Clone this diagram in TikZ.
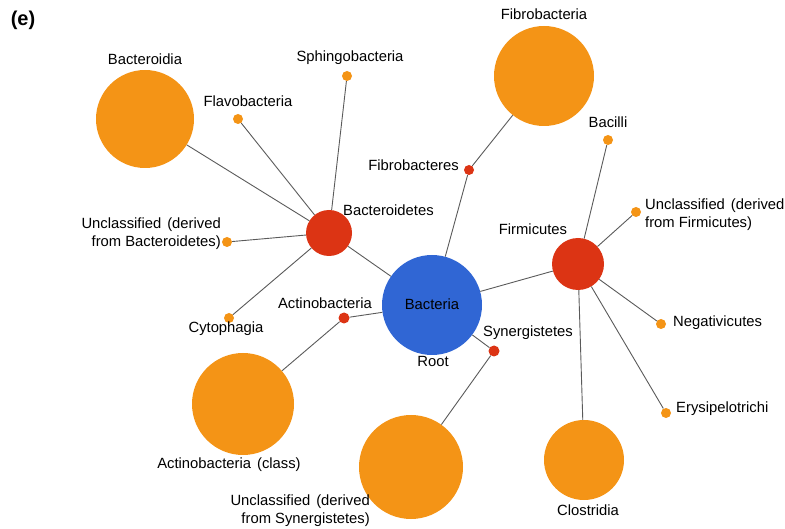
\documentclass[tikz,border=0pt]{standalone}
\usepackage{fontspec}
\setmainfont{Liberation Sans}
\definecolor{orng}{RGB}{244,148,22}
\definecolor{rd}{RGB}{220,52,20}
\definecolor{blu}{RGB}{48,102,212}
\definecolor{edg}{RGB}{90,90,90}
\newcommand{\gapsp}{\hskip 6pt\relax}
\begin{document}
\begin{tikzpicture}[x=1pt,y=-1pt,
  dot/.style={circle,fill=#1,draw=none,inner sep=0pt},
  lbl/.style={font=\fontsize{14.8}{18}\selectfont,inner sep=0pt},
  edge/.style={draw=edg,line width=0.9pt}]
\useasboundingbox (0,0) rectangle (785,529);
% hubs
\node[dot=blu,minimum size=100pt] (bac) at (432,305) {};
\node[dot=rd,minimum size=46pt] (bcd) at (329,233) {};
\node[dot=rd,minimum size=52pt] (fir) at (578,264) {};
\node[dot=rd,minimum size=10pt] (fbs) at (469,170) {};
\node[dot=rd,minimum size=11pt] (act) at (344,318) {};
\node[dot=rd,minimum size=11pt] (syn) at (494,351) {};
% leaves
\node[dot=orng,minimum size=100pt] (fba) at (544,76) {};
\node[dot=orng,minimum size=98pt] (bdia) at (145,119) {};
\node[dot=orng,minimum size=10pt] (flav) at (238,119) {};
\node[dot=orng,minimum size=10pt] (sph) at (347,76) {};
\node[dot=orng,minimum size=10pt] (ubd) at (227,242) {};
\node[dot=orng,minimum size=10pt] (cyt) at (229,318) {};
\node[dot=orng,minimum size=102pt] (actc) at (243,404) {};
\node[dot=orng,minimum size=104pt] (usy) at (411,467) {};
\node[dot=orng,minimum size=80pt] (clo) at (584,460) {};
\node[dot=orng,minimum size=10pt] (bacl) at (608,140) {};
\node[dot=orng,minimum size=10pt] (ufi) at (636,212) {};
\node[dot=orng,minimum size=10pt] (neg) at (661,324) {};
\node[dot=orng,minimum size=10pt] (ery) at (666,413) {};
% edges
\draw[edge] (bac) -- (bcd);
\draw[edge] (bac) -- (fir);
\draw[edge] (bac) -- (fbs);
\draw[edge] (bac) -- (act);
\draw[edge] (bac) -- (syn);
\draw[edge] (bcd) -- (bdia);
\draw[edge] (bcd) -- (flav);
\draw[edge] (bcd) -- (sph);
\draw[edge] (bcd) -- (ubd);
\draw[edge] (bcd) -- (cyt);
\draw[edge] (fbs) -- (fba);
\draw[edge] (act) -- (actc);
\draw[edge] (syn) -- (usy);
\draw[edge] (fir) -- (bacl);
\draw[edge] (fir) -- (ufi);
\draw[edge] (fir) -- (neg);
\draw[edge] (fir) -- (ery);
\draw[edge] (fir) -- (clo);
% labels
\node[lbl,font=\fontsize{20}{22}\selectfont\bfseries] (tag) at (23,20) {(e)};
\node[lbl] (tbac) at (432,304) {Bacteria};
\node[lbl] (troot) at (433,361) {Root};
\node[lbl,anchor=west] (tbcd) at (343,210) {Bacteroidetes};
\node[lbl] (tfir) at (533,229) {Firmicutes};
\node[lbl,anchor=east] (tfbs) at (459,165) {Fibrobacteres};
\node[lbl] (tact) at (325,303) {Actinobacteria};
\node[lbl] (tsyn) at (528,333) {Synergistetes};
\node[lbl] (tfba) at (544,14) {Fibrobacteria};
\node[lbl] (tbdia) at (145,59) {Bacteroidia};
\node[lbl] (tflav) at (248,101) {Flavobacteria};
\node[lbl] (tsph) at (350,58) {Sphingobacteria};
\node[lbl,anchor=east,align=right] (tubd) at (221,234) {Unclassified\gapsp(derived\\from Bacteroidetes)};
\node[lbl] (tcyt) at (226,329) {Cytophagia};
\node[lbl] (tactc) at (229,465) {Actinobacteria\gapsp(class)};
\node[lbl,anchor=east,align=right] (tusy) at (370,511) {Unclassified\gapsp(derived\\from Synergistetes)};
\node[lbl] (tclo) at (588,510) {Clostridia};
\node[lbl] (tbacl) at (608,122) {Bacilli};
\node[lbl,anchor=west,align=left] (tufi) at (645,215) {Unclassified\gapsp(derived\\from Firmicutes)};
\node[lbl,anchor=west] (tneg) at (673,323) {Negativicutes};
\node[lbl,anchor=west] (tery) at (676,409) {Erysipelotrichi};
\end{tikzpicture}
\end{document}
